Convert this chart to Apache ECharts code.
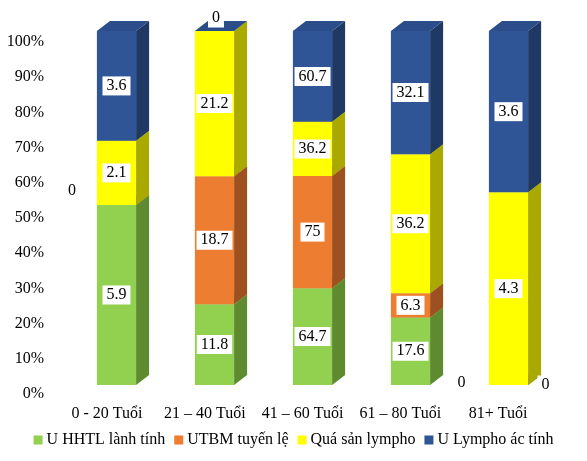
<!DOCTYPE html>
<html><head><meta charset="utf-8">
<script src="https://cdn.jsdelivr.net/npm/echarts@6/dist/echarts.min.js"></script>
<style>html,body{margin:0;padding:0;background:#fff}#c{width:587px;height:461px}</style>
</head><body><div id="c"></div>
<script>
var categories = ['0 - 20 Tuổi', '21 – 40 Tuổi', '41 – 60 Tuổi', '61 – 80 Tuổi', '81+ Tuổi'];
var seriesNames = ['U HHTL lành tính', 'UTBM tuyến lệ', 'Quá sản lympho', 'U Lympho ác tính'];
var benign = [5.9, 11.8, 64.7, 17.6, 0];
var carcinoma = [0, 18.7, 75, 6.3, 0];
var hyperplasia = [2.1, 21.2, 36.2, 36.2, 4.3];
var lymphoma = [3.6, 0, 60.7, 32.1, 3.6];
var yTicks = [0, 10, 20, 30, 40, 50, 60, 70, 80, 90, 100];

var values = [benign, carcinoma, hyperplasia, lymphoma];
var colors = ['#92D050', '#ED7D31', '#FFFF00', '#2F5597'];
var sideColors = ['#5E8A30', '#9E5120', '#A9A900', '#1F3864'];
var topColors = ['#7CB043', '#CC6A28', '#D9D900', '#2B4E8B'];
// label offsets for zero-valued items [series][category] (px)
var zeroOffsets = {'1_0': [-44.5, -14], '3_1': [1.5, -13], '0_4': [-47, -2], '1_4': [37, 0]};
var DX = 13, DY = 10;
var FAMILY = 'Liberation Serif, Times New Roman, DejaVu Serif, serif';

var totals = categories.map(function (c, i) {
  return values.reduce(function (s, arr) { return s + arr[i]; }, 0);
});
var cum = categories.map(function () { return 0; });
var series = values.map(function (arr, si) {
  var data = arr.map(function (v, ci) {
    var b = cum[ci];
    var t = b + v / totals[ci] * 100;
    cum[ci] = t;
    return [ci, b, t, v];
  });
  return {
    type: 'custom', name: seriesNames[si], xAxisIndex: 0, yAxisIndex: 0,
    itemStyle: { color: colors[si] },
    data: data,
    renderItem: function (params, api) {
      var ci = api.value(0), b = api.value(1), t = api.value(2), v = api.value(3);
      var pb = api.coord([ci, b]), pt = api.coord([ci, t]);
      var w = api.size([1, 0])[0] * 0.4;
      var x0 = pb[0] - w / 2, x1 = pb[0] + w / 2, yb = pb[1], yt = pt[1];
      var children = [];
      if (yb - yt > 0.01) {
        children.push({ type: 'rect', shape: { x: x0, y: yt, width: w, height: yb - yt }, style: { fill: colors[si] } });
        children.push({ type: 'polygon', shape: { points: [[x1, yb], [x1 + DX, yb - DY], [x1 + DX, yt - DY], [x1, yt]] }, style: { fill: sideColors[si] } });
      }
      children.push({ type: 'polygon', shape: { points: [[x0, yt], [x1, yt], [x1 + DX, yt - DY], [x0 + DX, yt - DY]] }, style: { fill: topColors[si] } });
      var lx = pb[0], ly = (yb + yt) / 2;
      var off = zeroOffsets[si + '_' + ci];
      if (v === 0 && off) { lx += off[0]; ly = yt + off[1]; }
      children.push({ type: 'text', z2: 100, style: {
        text: String(v), x: lx, y: ly, align: 'center', verticalAlign: 'middle',
        fill: '#000', fontFamily: FAMILY, fontSize: 16, backgroundColor: '#fff', padding: [2, 4, 1, 4]
      } });
      return { type: 'group', children: children };
    }
  };
});

var chart = echarts.init(document.getElementById('c'));
chart.setOption({
  animation: false,
  backgroundColor: '#fff',
  color: colors,
  textStyle: { fontFamily: FAMILY },
  grid: [
    { left: 67.5, right: 29.5, top: 31, bottom: 76 },
    { left: 58.1, right: 40, top: 42, bottom: 67 }
  ],
  xAxis: [
    { gridIndex: 0, type: 'category', data: categories, show: false },
    { gridIndex: 1, type: 'category', data: categories,
      axisLine: { show: false }, axisTick: { show: false },
      axisLabel: { margin: 12, color: '#000', fontFamily: FAMILY, fontSize: 16, interval: 0 } }
  ],
  yAxis: [
    { gridIndex: 0, type: 'value', min: 0, max: 100, show: false },
    { gridIndex: 1, type: 'value', min: 0, max: 100, interval: 10,
      axisLine: { show: false }, axisTick: { show: false }, splitLine: { show: false },
      axisLabel: { margin: 14, color: '#000', fontFamily: FAMILY, fontSize: 16,
        formatter: function (v) { return yTicks.indexOf(v) >= 0 ? v + '%' : ''; } } }
  ],
  legend: {
    bottom: 8, left: 'center', icon: 'rect', itemWidth: 9, itemHeight: 9, itemGap: 9,
    textStyle: { color: '#000', fontFamily: FAMILY, fontSize: 16, padding: [0, 0, 0, -1] },
    data: seriesNames
  },
  series: series
});
</script></body></html>
